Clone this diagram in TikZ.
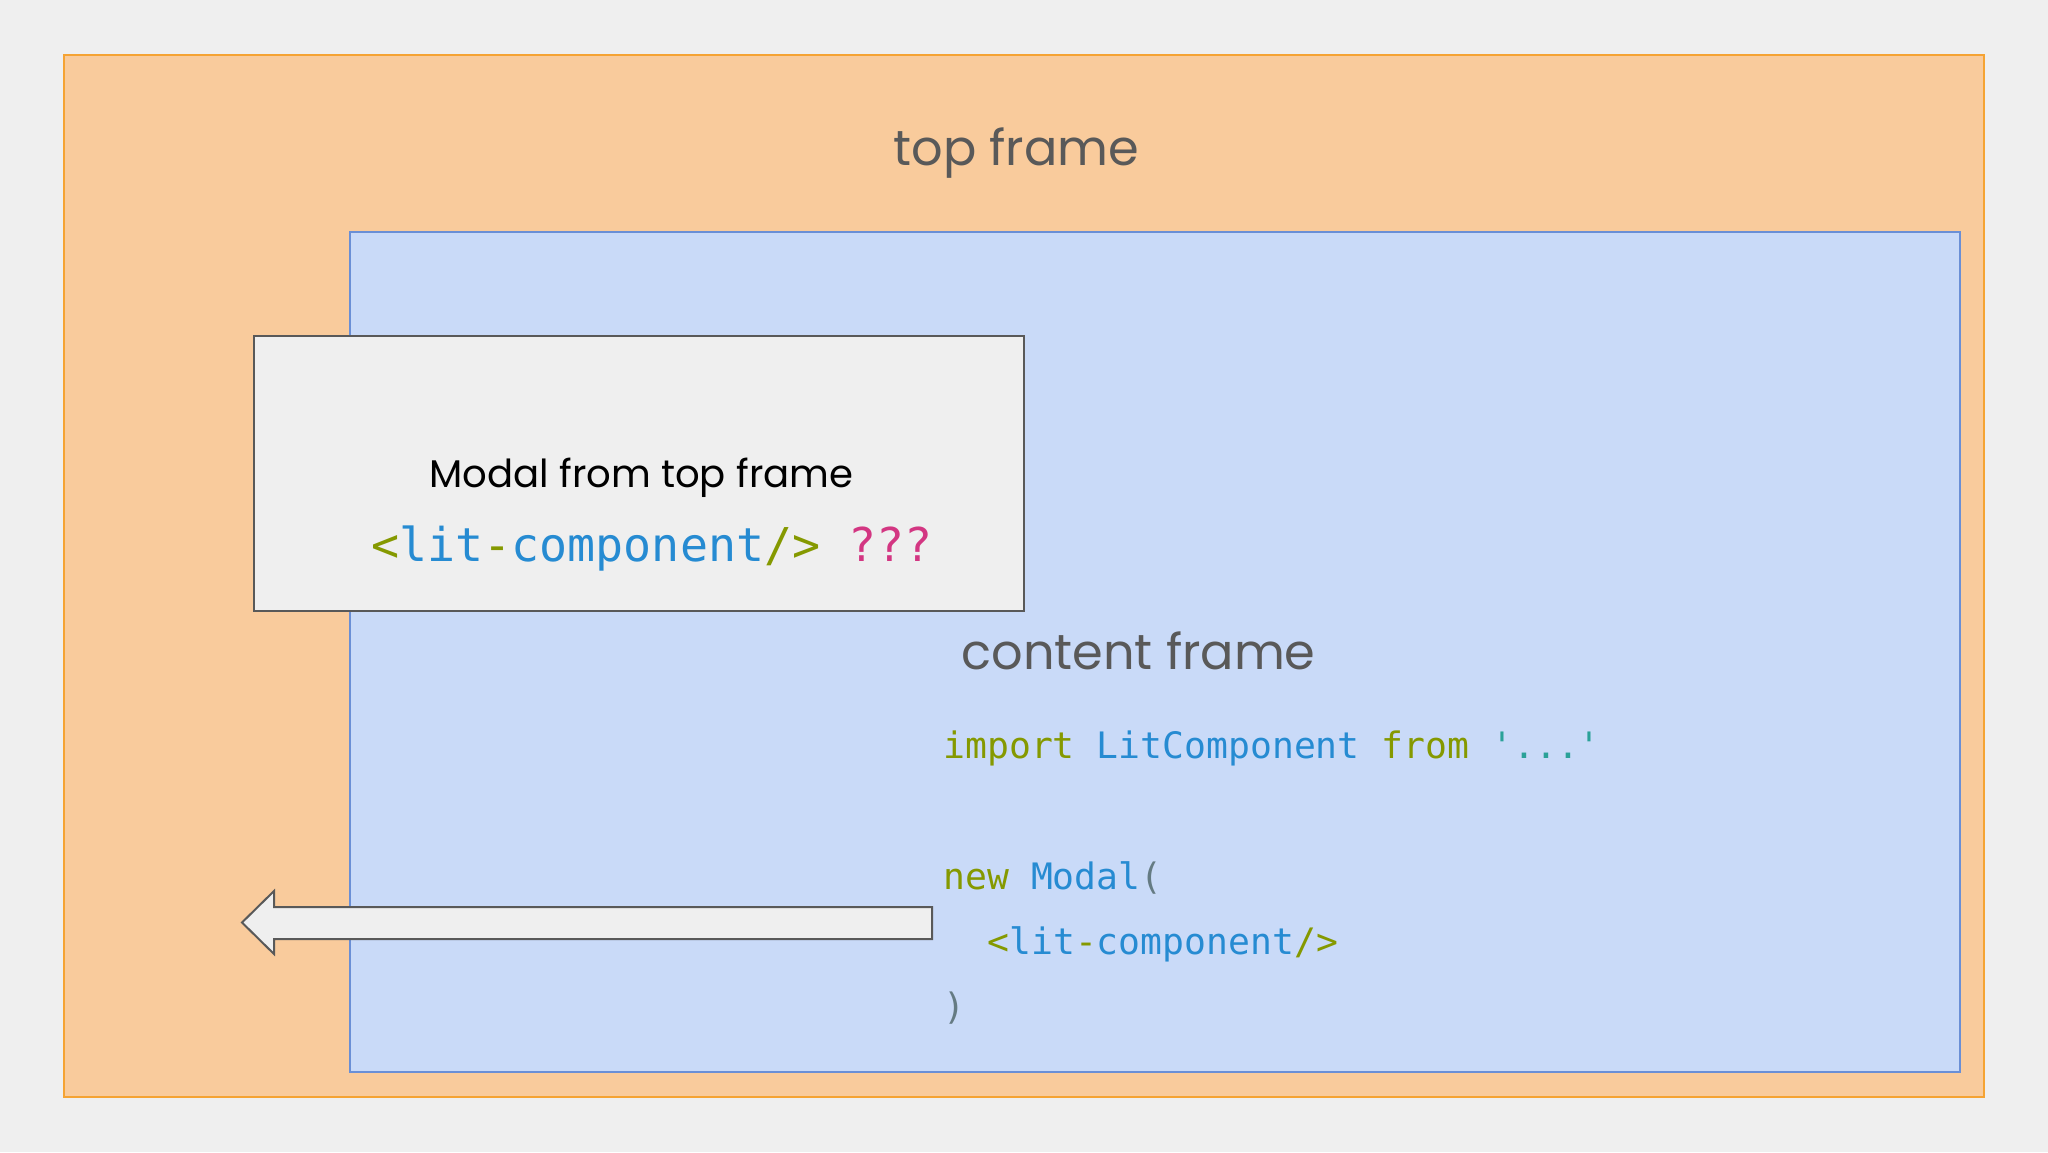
\documentclass[tikz,border=0pt]{standalone}
\usepackage{fontspec}
\setmainfont{Poppins}
\setmonofont{DejaVu Sans Mono}
\usetikzlibrary{positioning}
\definecolor{pagebg}{HTML}{EFEFEF}
\definecolor{peach}{HTML}{F9CB9C}
\definecolor{peachline}{HTML}{F5A333}
\definecolor{paleblue}{HTML}{C9DAF8}
\definecolor{blueline}{HTML}{6A8FD6}
\definecolor{greyline}{HTML}{595959}
\definecolor{codegreen}{HTML}{859900}
\definecolor{codeblue}{HTML}{268BD2}
\definecolor{codepink}{HTML}{D33682}
\definecolor{codecyan}{HTML}{2AA198}
\definecolor{codegrey}{HTML}{657B83}
\newcommand{\codekw}[1]{{\color{codegreen}#1}}
\newcommand{\codeid}[1]{{\color{codeblue}#1}}
\newcommand{\codestr}[1]{{\color{codecyan}#1}}
\newcommand{\codeask}[1]{{\color{codepink}#1}}
\newcommand{\codepar}[1]{{\color{codegrey}#1}}
\newcommand{\littag}{\codekw{<}\codeid{lit}\codekw{-}\codeid{component}\codekw{/>}}

\begin{document}
\begin{tikzpicture}[
    x=0.5pt, y=-0.5pt,
    outerframe/.style={draw=peachline, line width=1pt, fill=peach},
    innerframe/.style={draw=blueline, line width=1pt, fill=paleblue},
    modalbox/.style={draw=greyline, line width=1pt, fill=pagebg},
    framelabel/.style={anchor=base west, inner sep=0pt, text=greyline,
                font=\fontsize{24.7}{30}\selectfont},
    modallabel/.style={anchor=base west, inner sep=0pt, text=black,
                font=\fontsize{19.3}{24}\selectfont},
    codeline/.style={anchor=base west, inner sep=0pt,
                font=\ttfamily\fontsize{18.2}{22}\selectfont},
    bigcode/.style={codeline, font=\ttfamily\fontsize{23.3}{28}\selectfont}
]
    % page and frames
    \fill[pagebg] (0,0) rectangle (2048,1152);
    \useasboundingbox (0,0) rectangle (2048,1152);
    \draw[outerframe] (63.5,54.5) rectangle (1984,1096.5);
    \draw[innerframe] (349.5,231.5) rectangle (1960,1072);
    \draw[modalbox] (254,336) rectangle (1024,610.5);

    % arrow out of the content frame
    \draw[modalbox, line join=miter] (932,907) -- (274,907) -- (274,891) -- (242,922.5)
        -- (274,954) -- (274,939) -- (932,939) -- cycle;

    \node[framelabel] (toplabel) at (893,165) {top frame};
    \node[framelabel] (contentlabel) at (961,669) {content frame};
    \node[modallabel] (modaltitle) at (429,487.5) {Modal from top frame};
    \node[bigcode] (modalcode) at (371,561.5) {\littag{} \codeask{???}};

    \node[codeline] (importline) at (943,758) {\codekw{import} \codeid{LitComponent} \codekw{from} \codestr{'...'}};
    \node[codeline] (newline) at (943,889) {\codekw{new} \codeid{Modal}\codepar{(}};
    \node[codeline] (tagline) at (987,954) {\littag};
    \node[codeline] (closeline) at (943,1019) {\codepar{)}};
\end{tikzpicture}
\end{document}
